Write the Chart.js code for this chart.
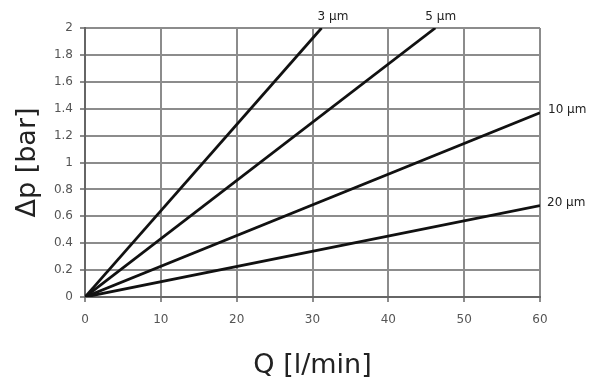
<!DOCTYPE html>
<html lang="en">
<head>
    <meta charset="UTF-8">
    <title>Pressure drop vs flow</title>
    <style>
        body {
            margin: 0;
            padding: 0;
            background-color: #fff;
        }

        .chart-box {
            width: 600px;
            height: 388px;
        }
    </style>
</head>
<body>
    <div class="chart-box">
        <canvas id="dpChart"></canvas>
    </div>

    <script src="https://cdn.jsdelivr.net/npm/chart.js"></script>
    <script>
        // filter ratings and the two end points of each straight line
        const seriesLabels = ["3 µm", "5 µm", "10 µm", "20 µm"];
        const flowQ = [[0, 31.2], [0, 46.2], [0, 60], [0, 60]];
        const deltaP = [[0, 2], [0, 2], [0, 1.37], [0, 0.68]];

        const xTickValues = [0, 10, 20, 30, 40, 50, 60];
        const yTickValues = [0, 0.2, 0.4, 0.6, 0.8, 1, 1.2, 1.4, 1.6, 1.8, 2];

        const datasets = seriesLabels.map((name, i) => ({
            label: name,
            data: flowQ[i].map((q, j) => ({ x: q, y: deltaP[i][j] })),
            borderColor: "#111",
            borderWidth: 2.8,
            pointRadius: 0,
            fill: false,
            tension: 0
        }));

        // writes "3 µm" etc. next to the end of each line
        const labelOffsets = [[-4, -11], [-10, -11], [8, -3], [7, -3]];
        const endLabels = {
            id: "endLabels",
            afterDatasetsDraw(chart) {
                const ctx = chart.ctx;
                ctx.save();
                ctx.font = "12px 'DejaVu Sans'";
                ctx.fillStyle = "#222";
                ctx.textAlign = "left";
                ctx.textBaseline = "middle";
                chart.data.datasets.forEach((ds, i) => {
                    const pts = chart.getDatasetMeta(i).data;
                    const p = pts[pts.length - 1];
                    ctx.fillText(ds.label, p.x + labelOffsets[i][0], p.y + labelOffsets[i][1]);
                });
                ctx.restore();
            }
        };

        const ctx = document.getElementById("dpChart").getContext("2d");
        new Chart(ctx, {
            type: "line",
            data: { datasets: datasets },
            plugins: [endLabels],
            options: {
                responsive: true,
                maintainAspectRatio: false,
                animation: false,
                layout: {
                    padding: { left: 8, top: 28, right: 60, bottom: 0 }
                },
                plugins: {
                    legend: { display: false },
                    tooltip: { enabled: false }
                },
                scales: {
                    x: {
                        type: "linear",
                        min: 0,
                        max: 60,
                        afterBuildTicks: (s) => { s.ticks = xTickValues.map(v => ({ value: v })); },
                        afterFit: (s) => { s.height = 91; },
                        grid: { color: "#8c8c8c", lineWidth: 2, tickLength: 5 },
                        border: { color: "#666", width: 2 },
                        ticks: {
                            color: "#555",
                            padding: 11,
                            font: { family: "DejaVu Sans", size: 12 }
                        },
                        title: {
                            display: true,
                            text: "Q [l/min]",
                            color: "#222",
                            padding: { top: 0, bottom: 6 },
                            font: { family: "DejaVu Sans", size: 27 }
                        }
                    },
                    y: {
                        min: 0,
                        max: 2,
                        afterBuildTicks: (s) => { s.ticks = yTickValues.map(v => ({ value: v })); },
                        afterFit: (s) => { s.width = 77; },
                        grid: { color: "#8c8c8c", lineWidth: 2, tickLength: 5 },
                        border: { color: "#666", width: 2 },
                        ticks: {
                            color: "#555",
                            padding: 7,
                            font: { family: "DejaVu Sans", size: 12 },
                            callback: (v) => String(+Number(v).toFixed(1))
                        },
                        title: {
                            display: true,
                            text: "Δp [bar]",
                            color: "#222",
                            padding: { top: 4, bottom: 0 },
                            font: { family: "DejaVu Sans", size: 27 }
                        }
                    }
                }
            }
        });
    </script>
</body>
</html>
